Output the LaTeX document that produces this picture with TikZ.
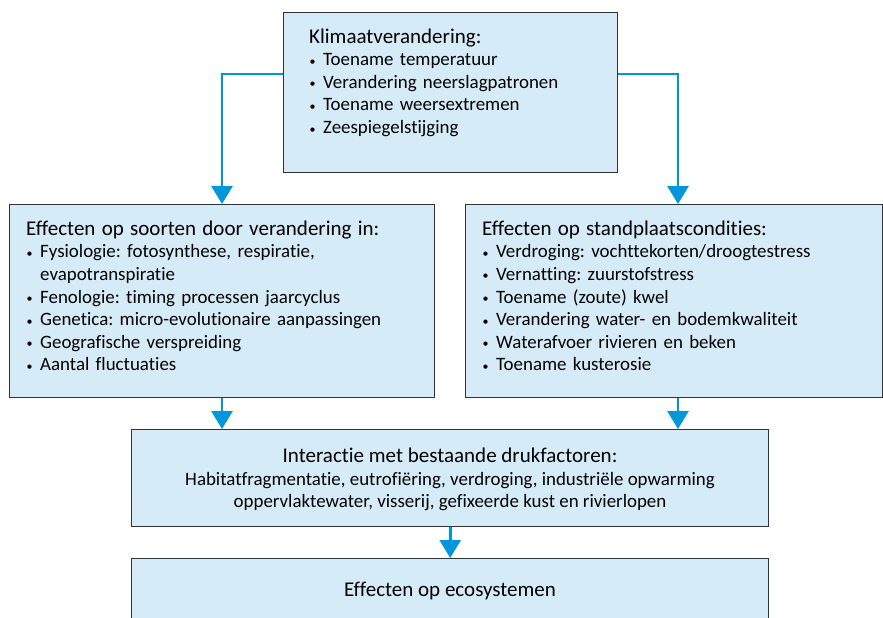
\documentclass[tikz,border=0pt]{standalone}
\usepackage{fontspec}
\setmainfont{Carlito}[Ligatures={NoCommon}]
\usetikzlibrary{arrows.meta}
\definecolor{boxfill}{HTML}{D6EBF8}
\definecolor{boxline}{HTML}{333333}
\definecolor{arrowblue}{HTML}{0096DA}
\frenchspacing
\newcommand{\bul}[1]{\par\hangindent=14pt\hangafter=1\noindent\makebox[14pt][l]{\hspace{0.5pt}\raisebox{0.5pt}{\fontsize{12pt}{12pt}\selectfont\textbullet}}#1}
\newcommand{\boxtitle}[1]{{\fontsize{21pt}{22.6pt}\selectfont\rule{0pt}{16pt}#1}}
\tikzset{
  box/.style={draw=boxline, fill=boxfill, line width=1.4pt, rectangle, inner sep=0pt, anchor=north west},
  txt/.style={anchor=north west, inner sep=0pt, align=left, text=black},
  conn/.style={draw=arrowblue, line width=2.6pt, -{Triangle[width=21pt,length=18pt]}},
  titlefont/.style={font=\fontsize{21pt}{22.6pt}\selectfont\frenchspacing},
  itemfont/.style={font=\fontsize{18.9pt}{22.6pt}\selectfont\frenchspacing},
  cline/.style={anchor=base, inner sep=0pt}
}
\begin{document}
\begin{tikzpicture}[x=1pt,y=-1pt]
\useasboundingbox (0,0) rectangle (883,618);
\begin{scope}
\clip (0,0) rectangle (883,618);
% boxes
\node[box, minimum width=334pt, minimum height=160pt] (top) at (283,12) {};
\node[box, minimum width=425pt, minimum height=193pt] (left) at (9,204) {};
\node[box, minimum width=417pt, minimum height=193pt] (right) at (465,204) {};
\node[box, minimum width=637pt, minimum height=97pt] (inter) at (131,429) {};
\node[box, minimum width=637pt, minimum height=80pt] (eco) at (131,558) {};
% texts
\node[txt, text width=300pt, itemfont] (ttop) at (309,27) {%
  \boxtitle{Klimaatverandering:}
  \bul{Toename temperatuur}
  \bul{Verandering neerslagpatronen}
  \bul{Toename weersextremen}
  \bul{Zeespiegelstijging}};
\node[txt, text width=405pt, itemfont] (tleft) at (26,219) {%
  \boxtitle{Effecten op soorten door verandering in:}
  \bul{Fysiologie: fotosynthese, respiratie,\newline evapotranspiratie}
  \bul{Fenologie: timing processen jaarcyclus}
  \bul{Genetica: micro-evolutionaire aanpassingen}
  \bul{Geografische verspreiding}
  \bul{Aantal fluctuaties}};
\node[txt, text width=395pt, itemfont] (tright) at (482,219) {%
  \boxtitle{Effecten op standplaatscondities:}
  \bul{Verdroging: vochttekorten/droogtestress}
  \bul{Vernatting: zuurstofstress}
  \bul{Toename (zoute) kwel}
  \bul{Verandering water- en bodemkwaliteit}
  \bul{Waterafvoer rivieren en beken}
  \bul{Toename kusterosie}};
\node[cline, titlefont] (tinter) at (450,462) {Interactie met bestaande drukfactoren:};
\node[cline, itemfont] (tinter2) at (450,485) {Habitatfragmentatie, eutrofiëring, verdroging, industriële opwarming};
\node[cline, itemfont] (tinter3) at (450,507) {oppervlaktewater, visserij, gefixeerde kust en rivierlopen};
\node[cline, titlefont] (teco) at (450,596) {Effecten op ecosystemen};
% connectors
\draw[conn] ([yshift=-62pt]top.north west) -| (left.north -| 222,0);
\draw[conn] ([yshift=-62pt]top.north east) -| (right.north -| 678,0);
\draw[conn] (left.south -| 222,0) -- (inter.north -| 222,0);
\draw[conn] (right.south -| 678,0) -- (inter.north -| 678,0);
\draw[conn] (inter.south) -- (eco.north);
\end{scope}
\end{tikzpicture}
\end{document}
